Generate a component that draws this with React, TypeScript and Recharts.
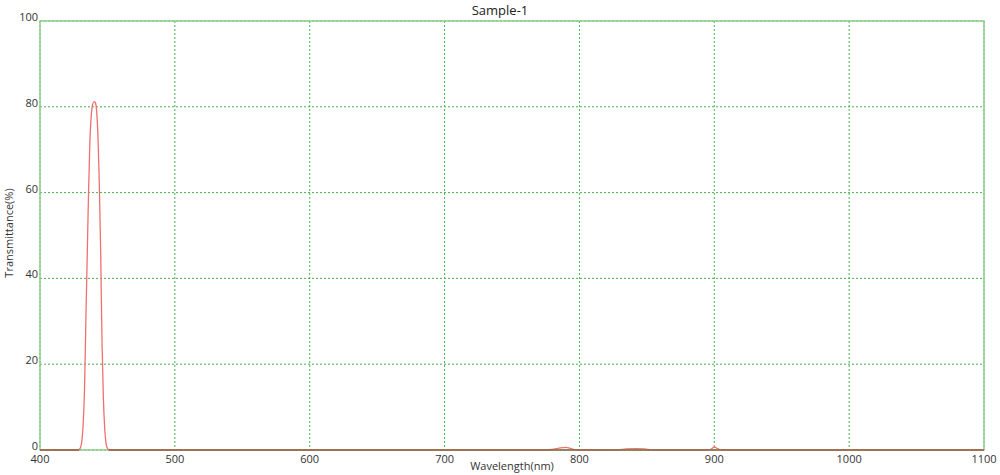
import React from 'react';
import { LineChart, Line, XAxis, YAxis, CartesianGrid, ReferenceArea, ReferenceLine } from 'recharts';

const wavelengths = [400, 420, 428, 429, 430, 431, 432, 433, 434, 435, 436, 437, 438, 439, 440, 441, 442, 443, 444, 445, 446, 447, 448, 449, 450, 451, 452, 500, 600, 700, 776, 780, 784, 788, 790, 792, 795, 798, 820, 828, 835, 842, 848, 853, 858, 890, 895, 898, 900, 902, 905, 910, 1000, 1100];
const transmittance = [0, 0, 0, 0.1, 0.5, 2, 6, 14, 30, 45, 60, 72, 78, 80.5, 81.2, 81, 79, 73, 62, 46, 25, 12, 5, 1.5, 0.4, 0.05, 0, 0, 0, 0, 0, 0.15, 0.4, 0.55, 0.6, 0.5, 0.2, 0, 0, 0.05, 0.25, 0.3, 0.25, 0.05, 0, 0, 0, 0.3, 0.7, 0.4, 0, 0, 0, 0];

const xTicks = [400, 500, 600, 700, 800, 900, 1000, 1100];
const yTicks = [0, 20, 40, 60, 80, 100];

const data = wavelengths.map((w, i) => ({ w, t: transmittance[i] }));

const FONT = '"Open Sans", "Noto Sans", sans-serif';
const FRAME = '#8fce8f';
const GRID = '#4caf50';

const YTick = (props: any) => {
  const { x, y, payload } = props;
  return (
    <text x={x + 6} y={y - 3} textAnchor="end" dominantBaseline="middle" fontSize={11} fill="#333" fontFamily={FONT}>
      {payload.value}
    </text>
  );
};

const XTick = (props: any) => {
  const { x, y, payload } = props;
  return (
    <text x={x} y={y + 2} textAnchor="middle" dominantBaseline="middle" fontSize={11} fill="#333" fontFamily={FONT}>
      {payload.value}
    </text>
  );
};

export default function App() {
  return (
    <div style={{ position: 'absolute', left: 0, top: 0, width: 1000, height: 475, background: '#fff' }}>
      <LineChart width={1000} height={475} data={data} margin={{ top: 21, right: 16, left: 0, bottom: 0 }}>
        <text x={500} y={12} textAnchor="middle" dominantBaseline="middle" fontSize={13} fill="#222" fontFamily={FONT}>
          Sample-1
        </text>
        <text
          x={10}
          y={233}
          transform="rotate(-90 10 233)"
          textAnchor="middle"
          dominantBaseline="middle"
          fontSize={11}
          fill="#333"
          fontFamily={FONT}
        >
          Transmittance(%)
        </text>
        <text x={512} y={467} textAnchor="middle" dominantBaseline="middle" fontSize={11} fill="#333" fontFamily={FONT}>
          Wavelength(nm)
        </text>
        <CartesianGrid stroke={GRID} strokeDasharray="2 2" vertical horizontal />
        <XAxis
          dataKey="w"
          type="number"
          domain={[400, 1100]}
          ticks={xTicks}
          interval={0}
          height={25}
          axisLine={false}
          tickLine={false}
          tick={<XTick />}
        />
        <YAxis
          type="number"
          domain={[0, 100]}
          ticks={yTicks}
          interval={0}
          width={40}
          axisLine={false}
          tickLine={false}
          tick={<YTick />}
        />
        <ReferenceArea x1={400} x2={1100} y1={0} y2={100} fill="none" stroke={FRAME} strokeWidth={1.5} />
        <Line type="monotone" dataKey="t" stroke="#f07070" strokeWidth={1.3} dot={false} isAnimationActive={false} />
        <ReferenceLine segment={[{ x: 400, y: 0 }, { x: 429, y: 0 }]} stroke="#8b6a45" strokeWidth={1.5} />
        <ReferenceLine segment={[{ x: 451, y: 0 }, { x: 1100, y: 0 }]} stroke="#8b6a45" strokeWidth={1.5} />
      </LineChart>
    </div>
  );
}
